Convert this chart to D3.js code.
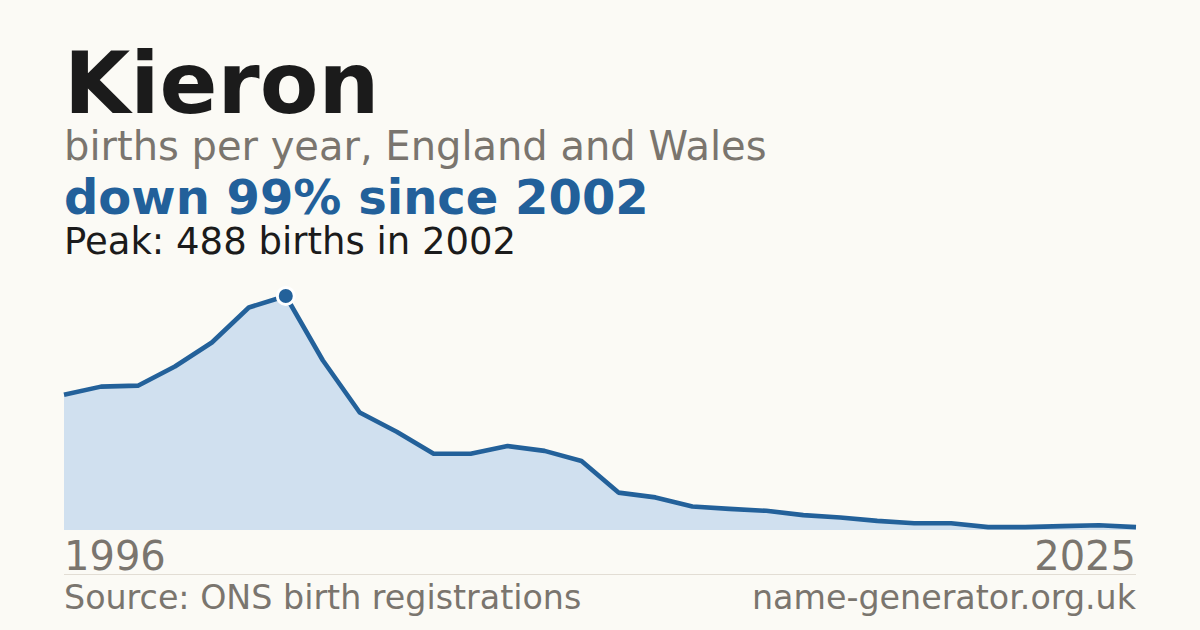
<!DOCTYPE html>
<html><head><meta charset="utf-8">
<script src="https://cdn.jsdelivr.net/npm/d3@7/dist/d3.min.js"></script>
<style>html,body{margin:0;padding:0;background:#fbfaf5;}svg{display:block;}</style>
</head><body>
<svg id="c" width="1200" height="630"></svg>
<script>
const years = [1996,1997,1998,1999,2000,2001,2002,2003,2004,2005,2006,2007,2008,2009,2010,2011,2012,2013,2014,2015,2016,2017,2018,2019,2020,2021,2022,2023,2024,2025];
const births = [282,299,301,341,391,464,488,354,245,205,159,159,175,165,144,78,68,49,44,40,31,26,19,14,14,6,6,8,10,6];
const axisLabels = ["1996","2025"];
const titleText = "Kieron";
const subtitleText = "births per year, England and Wales";
const changeText = "down 99% since 2002";
const peakText = "Peak: 488 births in 2002";
const sourceText = "Source: ONS birth registrations";
const siteText = "name-generator.org.uk";

const svg = d3.select("#c");
const font = "'DejaVu Sans', sans-serif";
svg.append("rect").attr("width",1200).attr("height",630).attr("fill","#fbfaf5");

const x = d3.scaleLinear().domain([1996,2025]).range([64,1136]);
const y = d3.scaleLinear().domain([0,488]).range([530,296]);
const data = years.map((yr,i)=>({yr, v:births[i]}));

svg.append("path").datum(data)
  .attr("d", d3.area().x(d=>x(d.yr)).y0(y(0)).y1(d=>y(d.v)))
  .attr("fill","#d0e0ef");
svg.append("path").datum(data)
  .attr("d", d3.line().x(d=>x(d.yr)).y(d=>y(d.v)))
  .attr("fill","none").attr("stroke","#23619a").attr("stroke-width",4.6)
  .attr("stroke-linejoin","round").attr("stroke-linecap","butt");

const peakIdx = births.indexOf(d3.max(births));
svg.append("circle").attr("cx",x(years[peakIdx])).attr("cy",y(births[peakIdx]))
  .attr("r",8.5).attr("fill","#23619a").attr("stroke","#ffffff").attr("stroke-width",3);

function t(txt,xp,yp,size,color,weight,anchor){
  svg.append("text").attr("x",xp).attr("y",yp).attr("font-family",font)
    .attr("font-size",size).attr("fill",color).attr("font-weight",weight||"normal")
    .attr("text-anchor",anchor||"start").text(txt);
}
t(titleText,64,113,85.5,"#1b1b1b","bold");
t(subtitleText,64,160,40,"#7a756e");
t(changeText,64,214,48,"#22609a","bold");
t(peakText,64,254,37,"#1b1b1b");

t(axisLabels[0],x(years[0]),570,40,"#7a756e","normal","start");
t(axisLabels[1],x(years[years.length-1]),570,40,"#7a756e","normal","end");

svg.append("line").attr("x1",64).attr("x2",1136).attr("y1",574.5).attr("y2",574.5)
  .attr("stroke","#e2ddd4").attr("stroke-width",1);

t(sourceText,64,609,33.3,"#7a756e");
t(siteText,1136,609,33.3,"#7a756e","normal","end");
</script>
</body></html>
